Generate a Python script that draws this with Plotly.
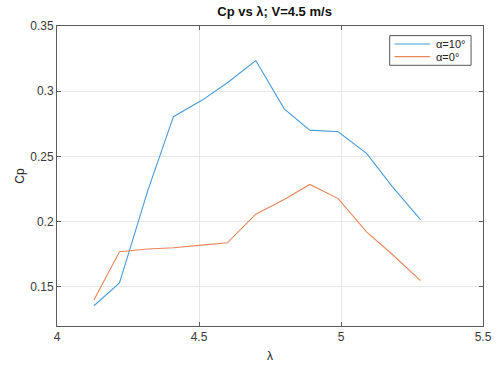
import plotly.graph_objects as go

# Tip speed ratio samples
tsr = [4.13, 4.22, 4.32, 4.41, 4.51, 4.60, 4.70, 4.80, 4.89, 4.99, 5.09, 5.18, 5.28]

# Power coefficient for each pitch angle
cp_alpha10 = [0.1355, 0.153, 0.224, 0.2805, 0.293, 0.3065, 0.3235, 0.2865, 0.2702, 0.2689, 0.2524, 0.227, 0.2015]
cp_alpha0 = [0.140, 0.177, 0.179, 0.180, 0.182, 0.1838, 0.2057, 0.217, 0.2285, 0.2177, 0.1922, 0.175, 0.1548]

series_names = ["α=10°", "α=0°"]
series_colors = ["#4a9bd8", "#e8855b"]

x_ticks = [4, 4.5, 5, 5.5]
x_tick_text = ["4", "4.5", "5", "5.5"]
y_ticks = [0.15, 0.2, 0.25, 0.3, 0.35]
y_tick_text = ["0.15", "0.2", "0.25", "0.3", "0.35"]

axis_color = "#5a5a5a"
font_family = "Liberation Sans, Arial, sans-serif"

fig = go.Figure()
for ys, name, color in zip([cp_alpha10, cp_alpha0], series_names, series_colors):
    fig.add_trace(go.Scatter(x=tsr, y=ys, mode="lines", name=name,
                             line=dict(color=color, width=1.1), showlegend=False))

axis_common = dict(
    showline=True, linecolor=axis_color, linewidth=1, mirror="ticks",
    ticks="inside", ticklen=4, tickcolor=axis_color,
    showgrid=True, gridcolor="#e8e8e8", gridwidth=1, zeroline=False,
    tickfont=dict(size=12, color="#3a3a3a", family=font_family),
)

fig.update_layout(
    width=502, height=371,
    margin=dict(l=57, r=10, t=26, b=39),
    paper_bgcolor="white", plot_bgcolor="white",
    font=dict(family=font_family, color="#222222"),
    title=dict(text="<b>Cp vs λ; V=4.5 m/s</b>", x=0.547, xanchor="center",
               y=0.968, yanchor="middle", font=dict(size=13, color="#111111")),
    xaxis=dict(range=[4, 5.5], tickvals=x_ticks, ticktext=x_tick_text,
               title=dict(text="λ", font=dict(size=12), standoff=8), **axis_common),
    yaxis=dict(range=[0.12, 0.35], tickvals=y_ticks, ticktext=y_tick_text,
               title=dict(text="Cp", font=dict(size=12), standoff=3), **axis_common),
)

# Legend box drawn in plot-area (paper) coordinates
box_x0, box_x1, box_y0, box_y1 = 0.781, 0.972, 0.869, 0.968
fig.add_shape(type="rect", xref="paper", yref="paper",
              x0=box_x0, x1=box_x1, y0=box_y0, y1=box_y1,
              line=dict(color="#555555", width=1), fillcolor="white", layer="above")
item_rows = [0.940, 0.898]
for row_y, name, color in zip(item_rows, series_names, series_colors):
    fig.add_shape(type="line", xref="paper", yref="paper",
                  x0=0.792, x1=0.876, y0=row_y, y1=row_y,
                  line=dict(color=color, width=1.1), layer="above")
    fig.add_annotation(xref="paper", yref="paper", x=0.885, y=row_y,
                       xanchor="left", yanchor="middle", text=name, showarrow=False,
                       font=dict(size=11, color="#222222", family=font_family))

fig.write_html("out.html")
